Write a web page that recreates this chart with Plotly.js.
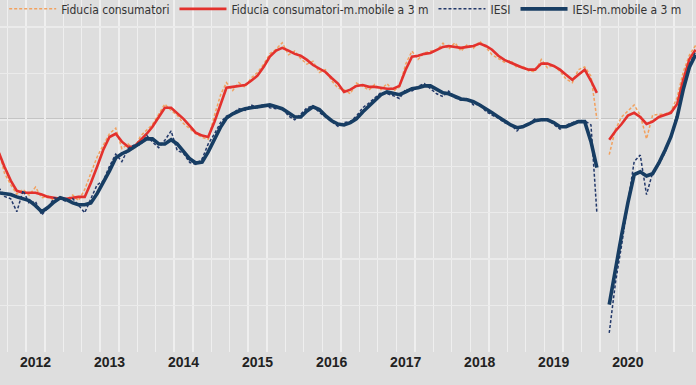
<!DOCTYPE html>
<html>
<head>
<meta charset="utf-8">
<script src="https://cdn.plot.ly/plotly-3.0.1.min.js"></script>
<style>
html,body{margin:0;padding:0;background:#dedede;}
#chart{width:696px;height:385px;}
</style>
</head>
<body>
<div id="chart"></div>
<script>
// Monthly observations, January 2012 to July 2021 (April 2020 not collected)
var startYear = 2012;
var nMonths = 115;
var months = [];
for (var i = 0; i < nMonths; i++) {
  var y = startYear + Math.floor(i / 12);
  var m = (i % 12) + 1;
  months.push(y + '-' + (m < 10 ? '0' + m : m) + '-01');
}

var yearLabels = ['2012','2013','2014','2015','2016','2017','2018','2019','2020','2021'];
var yearLabelDates = ['2012-08-01','2013-08-01','2014-08-01','2015-08-01','2016-08-01','2017-08-01','2018-08-01','2019-08-01','2020-08-01','2021-08-01'];

var fiduciaConsumatori = [
  96.0, 93.5, 88.5, 86.0, 84.0, 85.0, 83.8, 85.5, 83.2, 83.6, 82.6, 83.4,
  82.8, 83.8, 82.6, 85.0, 88.5, 92.0, 94.5, 97.0, 98.2, 93.8, 94.8, 93.6,
  96.5, 97.8, 99.0, 101.2, 103.4, 102.0, 101.0, 99.2, 98.0, 97.0, 96.2, 95.8,
  101.0, 105.5, 108.0, 106.3, 108.0, 107.0, 109.0, 110.2, 112.0, 114.2, 115.2, 116.6,
  114.0, 114.8, 113.2, 112.0, 112.6, 110.2, 110.8, 108.4, 106.8, 106.5, 105.6, 107.9,
  107.2, 106.4, 107.6, 106.5, 107.8, 106.2, 107.0, 112.0, 114.8, 113.0, 114.4, 114.8,
  115.0, 116.5, 115.2, 116.6, 114.8, 116.2, 115.4, 116.9, 115.6, 114.0, 113.2, 112.4,
  112.8, 111.2, 111.6, 110.5, 110.4, 113.0, 111.2, 111.8, 110.4, 108.8, 108.0, 110.8,
  111.4, 109.4, 100.2, null, 92.5, 98.0, 100.6, 102.0, 103.2, 101.0, 95.9, 101.0,
  101.2, 101.2, 101.8, 104.8, 110.3, 114.0, 116.0
];

var fiduciaConsumatoriMM3 = [
  95.5, 93.1, 89.9, 86.9, 84.7, 84.3, 84.3, 84.3, 83.9, 83.4, 83.2, 83.0,
  83.0, 83.2, 83.4, 83.4, 86.4, 89.9, 93.5, 96.3, 97.0, 95.3, 94.2, 94.2,
  95.5, 97.0, 98.5, 100.6, 102.6, 102.6, 101.5, 100.2, 98.7, 97.2, 96.6, 96.3,
  99.6, 103.7, 106.9, 107.1, 107.3, 107.5, 108.4, 109.5, 111.4, 113.6, 114.9, 115.5,
  114.9, 114.2, 113.8, 112.9, 111.8, 111.0, 110.3, 109.0, 107.8, 106.0, 106.5, 107.3,
  107.5, 107.1, 107.1, 106.9, 106.7, 106.7, 107.3, 110.8, 113.6, 113.8, 114.2, 114.4,
  115.1, 115.7, 115.9, 115.7, 115.5, 115.7, 115.9, 116.4, 115.9, 115.1, 113.8, 112.9,
  112.3, 111.6, 111.2, 110.8, 110.8, 112.1, 112.1, 111.6, 110.8, 109.7, 108.6, 109.7,
  110.8, 108.4, 105.8, null, 95.7, 97.6, 99.1, 100.9, 101.5, 100.6, 99.1, 99.6,
  100.6, 101.1, 101.5, 103.4, 108.6, 113.1, 115.1
];

var iesi = [
  84.0, 85.5, 83.5, 83.0, 80.2, 84.8, 82.0, 82.4, 79.5, 81.0, 83.2, 83.0,
  82.4, 83.0, 81.6, 80.0, 83.0, 86.0, 86.8, 90.0, 92.6, 91.0, 93.8, 94.6,
  94.6, 96.6, 95.2, 94.0, 95.6, 97.6, 93.4, 92.8, 90.8, 90.4, 91.6, 94.8,
  97.0, 99.5, 100.8, 101.4, 102.4, 102.0, 103.2, 102.6, 103.4, 102.6, 102.4, 102.6,
  100.8, 100.0, 101.2, 102.6, 103.0, 101.6, 100.6, 99.6, 98.6, 99.4, 99.6, 100.8,
  102.6, 103.6, 104.8, 105.9, 105.6, 105.2, 104.6, 106.6, 106.2, 107.2, 107.8, 106.8,
  105.6, 105.0, 106.2, 104.8, 104.2, 104.6, 103.2, 103.4, 101.8, 101.0, 100.4, 99.4,
  99.0, 97.6, 98.8, 99.2, 100.2, 99.8, 100.2, 99.0, 98.0, 98.8, 99.4, 99.8,
  99.8, 98.9, 80.0, null, 54.1, 65.0, 73.0, 82.5, 91.0, 92.4, 83.9, 88.6,
  90.4, 93.0, 96.4, 101.2, 107.0, 112.0, 114.6
];

var iesiMM3 = [
  84.5, 84.3, 84.1, 83.9, 83.4, 83.0, 82.6, 81.5, 80.2, 81.1, 82.3, 83.2,
  82.8, 82.1, 81.7, 81.7, 82.1, 84.1, 86.4, 89.0, 91.8, 92.7, 93.3, 94.2,
  95.0, 95.9, 95.9, 94.8, 94.8, 95.7, 94.8, 93.3, 91.6, 90.7, 90.9, 93.1,
  95.7, 98.5, 100.4, 101.3, 101.9, 102.4, 102.6, 102.8, 103.0, 103.2, 102.8, 102.4,
  101.5, 100.6, 100.6, 101.9, 102.8, 102.2, 100.9, 99.8, 99.1, 98.9, 99.4, 100.2,
  101.7, 103.0, 104.3, 105.4, 106.0, 105.6, 105.4, 106.0, 106.7, 106.9, 107.3, 107.3,
  106.5, 105.8, 105.6, 105.0, 104.5, 104.3, 103.9, 103.2, 102.4, 101.5, 100.6, 99.8,
  98.9, 98.3, 98.5, 99.1, 99.8, 100.0, 100.0, 99.4, 98.5, 98.5, 99.1, 99.6,
  99.6, 95.3, 89.7, null, 60.2, 68.4, 75.2, 82.1, 88.2, 88.8, 87.9, 88.4,
  90.7, 93.5, 96.3, 100.6, 106.5, 111.4, 114.0
];

var traces = [
  {
    x: months, y: fiduciaConsumatori, name: 'Fiducia consumatori', type: 'scatter', mode: 'lines',
    line: {color: '#f2a15e', width: 1.5, dash: '3px,2px'}
  },
  {
    x: months, y: fiduciaConsumatoriMM3, name: 'Fiducia consumatori-m.mobile a 3 m', type: 'scatter', mode: 'lines',
    line: {color: '#e3312d', width: 2.6}
  },
  {
    x: months, y: iesi, name: 'IESI', type: 'scatter', mode: 'lines',
    line: {color: '#22386a', width: 1.5, dash: '3px,2px'}
  },
  {
    x: months, y: iesiMM3, name: 'IESI-m.mobile a 3 m', type: 'scatter', mode: 'lines',
    line: {color: '#173d63', width: 3.6}
  }
];

var layout = {
  width: 696, height: 385,
  margin: {l: 0, r: 0, t: 0, b: 33, autoexpand: false},
  paper_bgcolor: '#dedede',
  plot_bgcolor: '#dedede',
  font: {family: 'DejaVu Sans Condensed, Liberation Sans Narrow, sans-serif', color: '#333333', size: 12},
  showlegend: true,
  legend: {
    orientation: 'h', x: 0.006, xanchor: 'left', y: 1.016, yanchor: 'top',
    bgcolor: 'rgba(0,0,0,0)', font: {size: 12, color: '#333333'},
    itemwidth: 47
  },
  xaxis: {
    type: 'date',
    range: ['2012-02-08', '2021-07-03'],
    tickmode: 'array', tickvals: yearLabelDates, ticktext: yearLabels,
    ticks: '', showgrid: false, zeroline: false, showline: false,
    tickfont: {family: 'Liberation Sans, Arial, sans-serif', size: 14, color: '#222222', weight: 'bold'},
    minor: {tick0: '2011-12-16', dtick: 'M3', showgrid: true, gridcolor: '#efefef', gridwidth: 1.5, ticks: ''}
  },
  yaxis: {
    range: [50, 125.8], dtick: 10, tick0: 0,
    showticklabels: false, ticks: '', zeroline: false, showline: false,
    showgrid: true, gridcolor: '#ebebeb', gridwidth: 1.5
  },
  shapes: [
    {type: 'line', xref: 'paper', x0: 0, x1: 1, yref: 'y', y0: 100, y1: 100,
     line: {color: '#777777', width: 2}, layer: 'below'}
  ]
};

Plotly.newPlot('chart', traces, layout, {displayModeBar: false, staticPlot: true});
</script>
</body>
</html>
